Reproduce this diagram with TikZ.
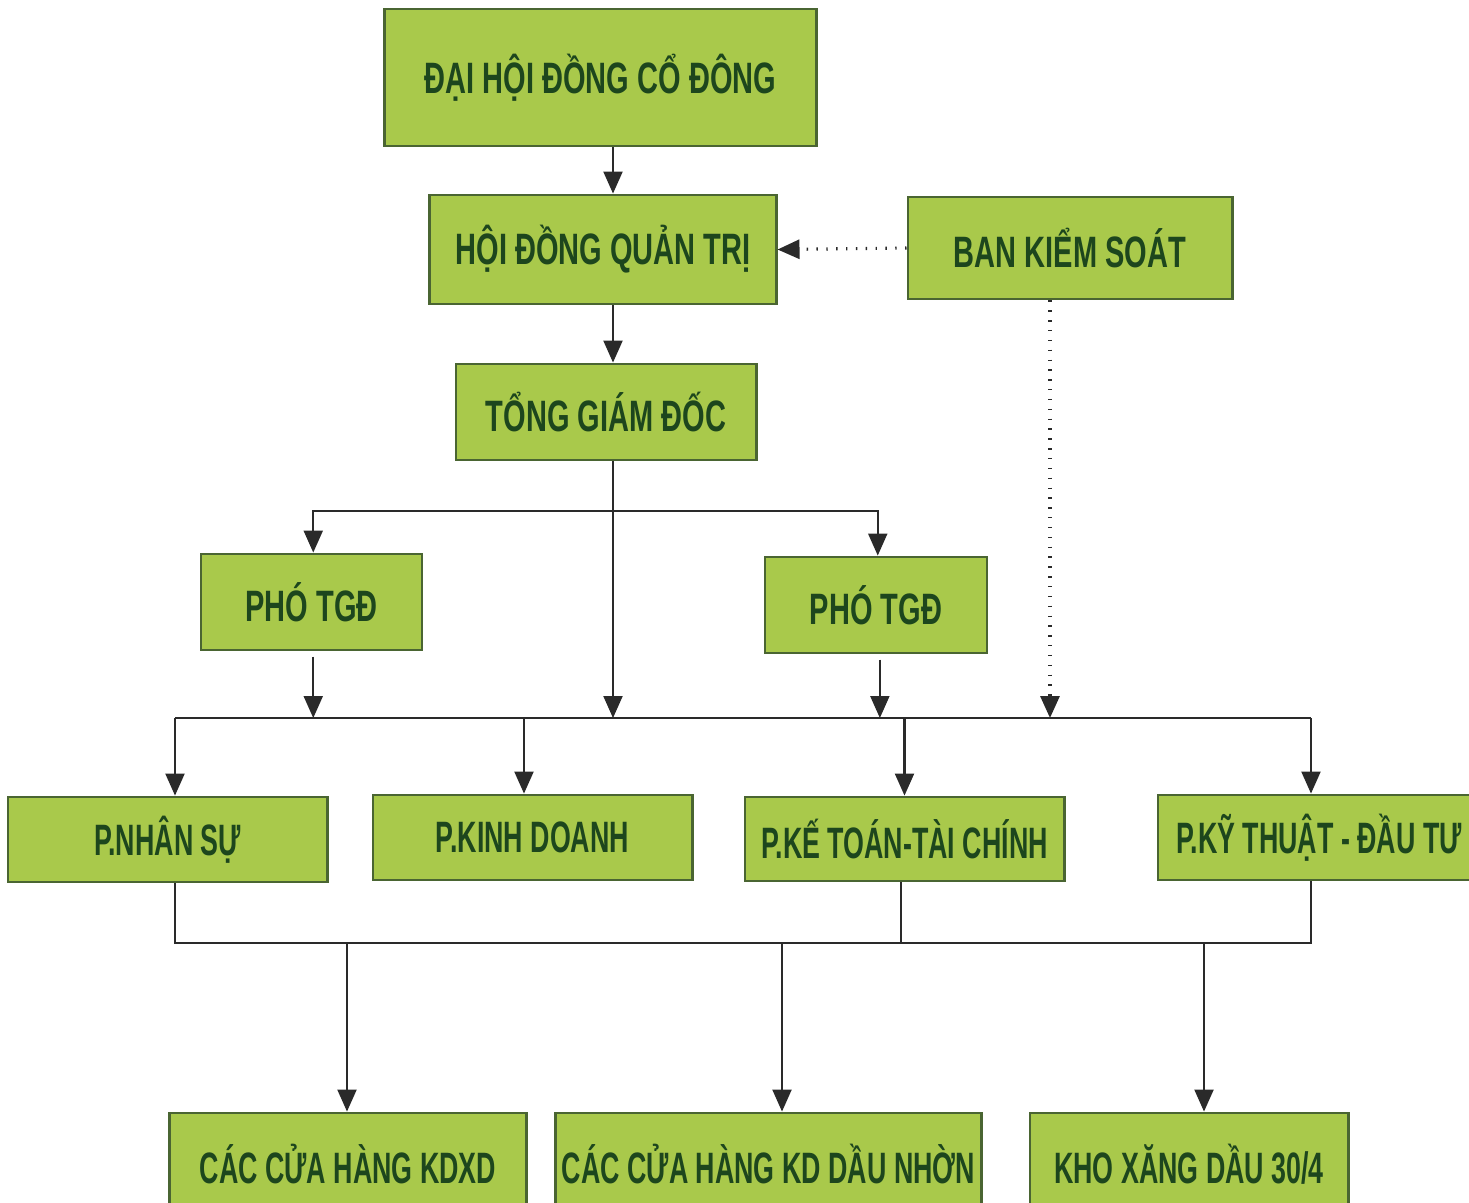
\documentclass[tikz,border=0pt]{standalone}
\usepackage{fontspec}
\usetikzlibrary{arrows.meta,positioning,calc}
\newfontfamily\boxfont{Liberation Sans}[FakeStretch=0.66]
\newfontfamily\slimfont{Liberation Sans}[FakeStretch=0.61]
\definecolor{leaf}{HTML}{A9C94B}
\definecolor{rim}{HTML}{4A6532}
\definecolor{ink}{HTML}{1D461D}
\definecolor{lead}{HTML}{2A2A2A}

\begin{document}
\begin{tikzpicture}[x=0.01cm,y=-0.01cm,
  box/.style={draw=rim,line width=0.8pt,fill=leaf,text=ink,align=center,inner sep=0pt,
    font=\boxfont\bfseries\fontsize{12.5}{14}\selectfont},
  dept/.style={box,font=\slimfont\bfseries\fontsize{12.5}{14}\selectfont},
  arrow/.style={-{Triangle[length=2.2mm,width=1.9mm]},line width=0.6pt,draw=lead},
  wire/.style={line width=0.6pt,draw=lead},
  dots/.style={line width=0.9pt,draw=lead,dash pattern=on 0.4pt off 2.4pt}
]
  \useasboundingbox (0,0) rectangle (1469,1202);
  \clip (0,0) rectangle (1469,1202);
  % board and management
  \node[box,minimum width=4.31cm,minimum height=1.37cm] (dhd) at (600.5,77.5) {ĐẠI HỘI ĐỒNG CỔ ĐÔNG};
  \node[box,minimum width=3.46cm,minimum height=1.09cm] (hdqt) at (603,249.5) {HỘI ĐỒNG QUẢN TRỊ};
  \node[box,minimum width=3.24cm,minimum height=1.02cm] (bks) at (1070,248) {BAN KIỂM SOÁT};
  \node[box,minimum width=3.00cm,minimum height=0.96cm] (tgd) at (606,412) {TỔNG GIÁM ĐỐC};
  \node[box,minimum width=2.21cm,minimum height=0.96cm] (pho1) at (311.5,602) {PHÓ TGĐ};
  \node[box,minimum width=2.22cm,minimum height=0.96cm] (pho2) at (876,605) {PHÓ TGĐ};
  % departments
  \node[dept,minimum width=3.19cm,minimum height=0.85cm] (pns) at (167.5,839.5) {P.NHÂN SỰ};
  \node[dept,minimum width=3.19cm,minimum height=0.85cm] (pkd) at (532.5,837.5) {P.KINH DOANH};
  \node[dept,minimum width=3.19cm,minimum height=0.84cm] (pkt) at (904.5,839) {P.KẾ TOÁN-TÀI CHÍNH};
  \node[dept,minimum width=3.22cm,minimum height=0.85cm] (pkdt) at (1319,837.5) {P.KỸ THUẬT - ĐẦU TƯ};
  % units
  \node[dept,minimum width=3.56cm,minimum height=1.02cm] (chxd) at (348,1164) {CÁC CỬA HÀNG KDXD};
  \node[dept,minimum width=4.25cm,minimum height=1.02cm] (chdn) at (768.5,1164) {CÁC CỬA HÀNG KD DẦU NHỜN};
  \node[dept,minimum width=3.18cm,minimum height=1.02cm] (kho) at (1189,1164) {KHO XĂNG DẦU 30/4};

  \coordinate (spine) at (613,0);
  \coordinate (fork) at (613,511);
  \coordinate (midbus) at (0,718);
  \coordinate (lowbus) at (0,943);

  \draw[arrow] (dhd.south -| spine) -- (hdqt.north -| spine);
  \draw[arrow] (hdqt.south -| spine) -- (tgd.north -| spine);
  \draw[dots,-{Triangle[length=2.2mm,width=1.9mm]}] (bks.west) -- (hdqt.east);
  \draw[arrow] (tgd.south -| spine) -- (spine |- midbus);
  \draw[arrow] (fork) -| ([xshift=0.5pt]pho1.north);
  \draw[arrow] (fork) -| ([xshift=0.5pt]pho2.north);
  \draw[arrow] ([shift={(0.5pt,-1.5pt)}]pho1.south) -- ([xshift=0.5pt]pho1.south |- midbus);
  \draw[arrow] ([shift={(1.1pt,-1.5pt)}]pho2.south) -- ([xshift=1.1pt]pho2.south |- midbus);
  \draw[dots,-{Triangle[length=2.2mm,width=1.9mm]}] ([xshift=-0.2cm]bks.south) -- ([xshift=-0.2cm]bks.south |- midbus);

  % middle bus
  \draw[wire] ([xshift=0.075cm]pns.north |- midbus) -- ([xshift=-0.08cm]pkdt.north |- midbus);
  \draw[arrow] ([xshift=0.075cm]pns.north |- midbus) -- ([xshift=0.075cm]pns.north);
  \draw[arrow] ([xshift=-0.085cm]pkd.north |- midbus) -- ([xshift=-0.085cm]pkd.north);
  \draw[arrow] (pkt.north |- midbus) -- (pkt.north);
  \draw[arrow] ([xshift=-0.08cm]pkdt.north |- midbus) -- ([xshift=-0.08cm]pkdt.north);

  % lower bus
  \draw[wire] ([xshift=0.075cm]pns.south) -- ([xshift=0.075cm]pns.south |- lowbus)
    -- ([xshift=-0.08cm]pkdt.south |- lowbus) -- ([xshift=-0.08cm]pkdt.south);
  \draw[wire] ([xshift=-0.035cm]pkt.south) -- ([xshift=-0.035cm]pkt.south |- lowbus);
  \draw[arrow] ([xshift=-0.01cm]chxd.north |- lowbus) -- ([xshift=-0.01cm]chxd.north);
  \draw[arrow] ([xshift=0.135cm]chdn.north |- lowbus) -- ([xshift=0.135cm]chdn.north);
  \draw[arrow] ([xshift=0.15cm]kho.north |- lowbus) -- ([xshift=0.15cm]kho.north);
\end{tikzpicture}
\end{document}
